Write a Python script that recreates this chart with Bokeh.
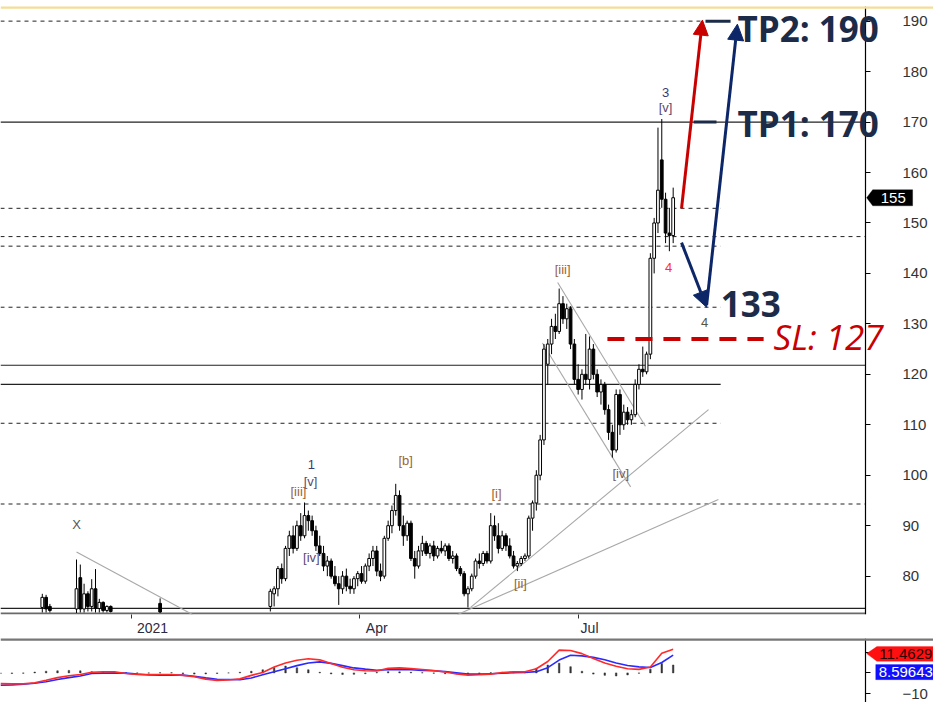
from bokeh.plotting import figure
from bokeh.models import (ColumnDataSource, Span, Label, Arrow, NormalHead, LinearAxis,
                          PolyAnnotation, FixedTicker, Range1d)
from bokeh.layouts import column
from bokeh.embed import file_html
from bokeh.resources import INLINE
from bokeh.core.properties import value

# ---------------- data ----------------
bar_idx = [11, 12, 13, 20, 21, 22, 23, 24, 25, 26, 27, 28, 29, 42] + list(range(71, 178))

opens = [73.8, 75.8, 74.0, 73.5, 79.7, 73.5, 76.5, 74.0, 77.5, 73.6, 74.8, 73.2, 74.0, 74.6,
         74, 76.5, 77.5, 81.5, 79.5, 85.5, 88, 85.5, 90, 88,
         92, 91, 89, 86, 84.5, 82, 83, 80, 78.5, 77.5,
         80, 78, 77.5, 79.5, 80.5, 79, 82, 83.5, 85, 81,
         80, 87.5, 90, 93, 96, 90, 88, 90.5, 83.5, 82,
         85, 86.5, 84.5, 86, 84, 85.5, 85, 86, 83.5, 84,
         81.5, 80.5, 76.5, 77.5, 80, 83, 82.5, 84.5, 83, 90,
         88, 85.5, 88, 86, 84, 82, 82.5, 83.5, 84, 91.5,
         94.5, 100, 107, 122, 126, 129.5, 128.5, 134, 131, 133,
         126, 119, 117, 120, 119, 125, 120, 116.5, 118, 113,
         108.5, 105, 116, 110, 112.5, 111, 112, 118, 121, 120.5,
         124, 143, 150, 162.5, 154.7, 148, 147.5]
highs = [76.5, 76.3, 74.5, 83.3, 82.3, 78.5, 77.0, 79.4, 81.4, 75.5, 75.0, 74.2, 74.2, 75.6,
         77.5, 78, 82, 82.5, 86, 89, 90, 91, 92.5, 94.6,
         93, 92, 90, 88, 86, 84, 83.5, 82, 80, 81,
         81.5, 79.5, 80, 81, 82, 82.5, 84.5, 86, 86, 82.5,
         88, 91, 94, 98.3, 97, 92, 91, 91, 85, 86,
         88, 87, 86.5, 87, 86, 87, 86.5, 86.5, 85, 84.5,
         82, 81, 78, 80.5, 83.5, 84.5, 85, 85, 92.5, 92,
         90.5, 89, 88.5, 87.5, 85, 83, 84, 84.5, 92, 95,
         101, 108, 126, 127, 131, 132, 137, 135.5, 134, 133.5,
         127, 122, 121, 128, 127.5, 126, 121, 119, 118.5, 114,
         110, 117, 117, 114, 113.5, 113, 119, 122, 125.5, 124.5,
         144, 151, 168.9, 170.6, 156, 153, 157]
lows = [72.8, 72.8, 72.8, 72.7, 72.8, 72.8, 73.0, 73.0, 72.8, 72.8, 72.8, 72.8, 72.8, 72.7,
        73, 74, 76, 78.5, 79, 84, 84.5, 85, 87, 87.5,
        89, 88, 85, 84, 81, 80, 79.5, 78, 74.3, 76.5,
        77, 76.5, 76.5, 78, 78.5, 78.5, 81, 82, 80, 79,
        79.5, 87, 88.5, 92, 89, 86, 87, 83, 79.5, 81.5,
        84, 84, 83.5, 83, 83.5, 84.5, 84, 83, 82.5, 81,
        80, 76, 73.8, 77, 79.5, 81.5, 82, 82.5, 82.5, 87,
        84.5, 85, 85, 83.5, 81.5, 81, 82, 83, 83.5, 89,
        93, 99, 106, 118, 124, 127, 128, 130, 129, 125,
        118, 116, 115, 118, 117, 119, 115.5, 114, 112, 107,
        103.5, 104.5, 108, 109, 110, 110, 111.5, 117, 119.5, 120,
        123, 140, 148, 153, 146, 144.4, 146]
closes = [75.8, 73.5, 73.2, 77.5, 73.5, 76.5, 74.0, 77.5, 73.6, 74.8, 73.2, 74.0, 73.0, 72.9,
          77, 77.5, 81.5, 79.5, 85.5, 88, 85.5, 90, 88, 92,
          91, 89, 86, 84.5, 82, 83, 80, 78.5, 77.5, 80,
          78, 77.5, 79.5, 80.5, 79, 82, 83.5, 85, 81, 80,
          87.5, 90, 93, 96, 90, 88, 90.5, 83.5, 82, 85,
          86.5, 84.5, 86, 84, 85.5, 85, 86, 83.5, 84, 81.5,
          80.5, 76.5, 77.5, 80, 83, 82.5, 84.5, 83, 90, 88,
          85.5, 88, 86, 84, 82, 82.5, 83.5, 84, 91.5, 94.5,
          100, 107, 125, 126, 129.5, 128.5, 134, 131, 133, 126,
          119, 117, 120, 119, 125, 120, 116.5, 118, 113, 108.5,
          105, 116, 110, 112.5, 111, 112, 118, 121, 120.5, 124,
          143, 150, 156.5, 154.7, 148, 147.5, 155]

# indicator (sampled every 3 bars)
ind_idx = list(range(0, 178, 3))
ind_red = [-5.2, -5.3, -5.3, -4.8, -3.6, -2.3, -1.4, -0.8, 0.3, 0.5, 0.5, -0.3, -0.8, -0.8, -0.8,
           -0.8, -1.2, -1.9, -3.0, -3.6, -3.4, -2.9, -1.2, 0.2, 2.8, 4.8, 6.1, 6.8, 6.3, 4.5,
           2.7, 1.5, 1.0, 0.9, 2.2, 2.4, 2.1, 1.6, 1.1, 0.4, -0.5, -1.1, -0.9, -0.6, 0.2,
           0.5, 0.5, 2.0, 5.5, 11.0, 10.8, 9.3, 6.9, 4.8, 3.2, 2.0, 1.7, 2.8, 9.5, 11.46]
ind_blue = [-6.0, -5.8, -5.5, -5.0, -4.3, -3.2, -2.3, -1.5, -0.3, -0.1, 0.0, -0.1, -0.6, -1.0, -1.1,
            -1.1, -1.1, -1.6, -2.4, -3.1, -3.2, -3.3, -2.5, -0.9, 0.5, 2.0, 3.5, 4.8, 5.3, 4.6,
            3.5, 2.4, 1.8, 1.3, 1.5, 1.6, 1.5, 1.2, 1.0, 0.6, 0.0, -0.6, -0.6, -0.4, -0.2,
            0.1, 0.2, 0.6, 2.5, 6.2, 8.5, 8.2, 7.5, 6.3, 4.8, 3.6, 2.9, 2.6, 5.0, 8.6]
ind_hist = [-0.3, -0.3, -0.2, 0.4, 0.8, 1.0, 1.2, 1.0, 0.6, 0.4, 0.2, 0.1, -0.1, -0.1, 0.1,
            0.1, -0.4, -0.6, -0.5, -0.3, 0.0, 0.3, 0.8, 1.5, 2.6, 3.3, 2.5, 1.5, 0.3, -0.5,
            -0.8, -0.7, -0.4, 0.2, 0.6, 0.5, 0.3, 0.1, -0.2, -0.4, -0.5, -0.6, -0.3, 0.1, 0.3,
            0.2, 0.5, 2.2, 3.8, 4.7, 3.0, 0.8, -0.6, -1.2, -1.5, -1.0, -0.2, 1.8, 4.5, 3.8]
macd_last = "11.4629"
signal_last = "8.59643"

# price levels / ticks
y_ticks = [80, 90, 100, 110, 120, 130, 140, 150, 160, 170, 180, 190]
x_tick_marks = [34.5, 94.5, 152.1]
x_label_pos = [40, 99, 155]
x_labels = ["2021", "Apr", "Jul"]

TP1, TP2, SL, TARGET = 170, 190, 127, 133.3
dashed_levels = [190, 152.9, 147.3, 145.4, 133.3, 110.3, 94.3]
dashed_ends = [184.2, 189.5, 227.6, 189.5, 189.5, 189.5, 227.6]
solid_levels = [170, 121.8, 118.0, 73.6]
solid_ends = [227.6, 227.6, 189.5, 227.6]

trend_x0 = [20, 146.6, 142.6, 123.7, 120.3]
trend_y0 = [84.8, 138.2, 126.2, 73.8, 72.4]
trend_x1 = [50.5, 169.7, 165.8, 186.3, 188.9]
trend_y1 = [72.4, 109.7, 97.7, 113.0, 95.2]

wave_text = ["X", "1", "[v]", "[iii]", "[iv]", "[b]", "[i]", "[ii]", "[iii]", "[iv]", "3", "[v]", "4", "4"]
wave_x = [20, 81.8, 81.6, 78.4, 81.8, 106.6, 130.5, 136.8, 147.9, 163.2, 175, 175, 175.8, 185.3]
wave_y = [90.2, 102.2, 98.8, 96.8, 83.6, 103.0, 96.4, 78.6, 140.7, 100.4, 175.9, 172.8, 141.1, 130.2]
wave_col = ["#555555", "#3a3a6e", "#5a4a70", "#9a6436", "#5a4a70", "#9a6436", "#9a6436", "#9a6436",
            "#9a6436", "#7a5a56", "#3a3a6e", "#5a4a70", "#ff3030", "#555544"]

X_AXIS = 227.6     # where the price axis sits
X_MAX = 245.5      # right edge of the frame (page edge)
NAVY = "#0c2668"
TXT = "#1b2b48"
RED = "#c80000"


def style_right_axis(ax):
    ax.axis_line_color = "black"
    ax.axis_line_width = 1.2
    ax.major_tick_out = 5
    ax.major_tick_in = 0
    ax.minor_tick_line_color = None
    ax.major_label_standoff = 32
    ax.major_label_text_font = "Liberation Sans"
    ax.major_label_text_font_size = "15px"
    ax.major_label_text_color = "#333333"


# ---------------- main price panel ----------------
p = figure(width=933, height=638, x_range=Range1d(0, X_MAX), y_range=Range1d(72.4, 192.9),
           toolbar_location=None, output_backend="svg", y_axis_location=None,
           min_border_left=0, min_border_right=0, min_border_top=6, min_border_bottom=21)
p.xgrid.visible = False
p.ygrid.visible = False
p.outline_line_color = None

p.add_layout(Span(location=192.75, dimension="width", line_color="#f3de94", line_width=3))

# horizontal levels
p.segment(x0=[0] * len(dashed_levels), x1=dashed_ends, y0=dashed_levels, y1=dashed_levels,
          line_color="#222222", line_width=1, line_dash="4 4")
p.segment(x0=[0] * len(solid_levels), x1=solid_ends, y0=solid_levels, y1=solid_levels,
          line_color="#222222", line_width=1.2)
# bottom baseline of the price panel
p.segment(x0=[0], x1=[X_AXIS], y0=[72.6], y1=[72.6], line_color="#6a6a6a", line_width=2)

# trend lines
p.segment(x0=trend_x0, y0=trend_y0, x1=trend_x1, y1=trend_y1, line_color="#a8a8a8", line_width=1.1)

# candles
fills = ["white" if c >= o else "black" for o, c in zip(opens, closes)]
src = ColumnDataSource(dict(x=bar_idx, o=opens, h=highs, l=lows, c=closes,
                            top=[max(o, c) for o, c in zip(opens, closes)],
                            bot=[min(o, c) for o, c in zip(opens, closes)],
                            fill=fills))
p.segment(x0="x", x1="x", y0="h", y1="l", source=src, line_color="black", line_width=1)
p.vbar(x="x", width=0.72, top="top", bottom="bot", source=src, fill_color="fill",
       line_color="black", line_width=1)

# SL dashed level
p.segment(x0=[159.7], x1=[200.8], y0=[SL], y1=[SL], line_color=RED, line_width=4, line_dash="17 11")

# TP marker segments
p.segment(x0=[182.4, 185.5], x1=[188.4, 192.1], y0=[TP1, TP2], y1=[TP1, TP2],
          line_color=TXT, line_width=3)

# wave labels
wsrc = ColumnDataSource(dict(x=wave_x, y=wave_y, t=wave_text, c=wave_col))
p.text(x="x", y="y", text="t", text_color="c", source=wsrc, text_align="center",
       text_baseline="middle", text_font=value("Liberation Sans"), text_font_size="13px")

# arrows
p.add_layout(Arrow(end=NormalHead(size=15, fill_color=RED, line_color=RED),
                   x_start=179.2, y_start=152.9, x_end=184.7, y_end=TP2 + 0.2,
                   line_color=RED, line_width=3))
p.add_layout(Arrow(end=NormalHead(size=16, fill_color=NAVY, line_color=NAVY),
                   x_start=179.2, y_start=146.1, x_end=185.8, y_end=TARGET,
                   line_color=NAVY, line_width=3))
p.add_layout(Arrow(end=NormalHead(size=16, fill_color=NAVY, line_color=NAVY),
                   x_start=185.8, y_start=TARGET + 0.4, x_end=193.9, y_end=TP2 - 0.6,
                   line_color=NAVY, line_width=3))

# big texts
for txt, xx, yy, col, style in [("TP2: 190", 193.9, TP2 - 1.4, TXT, "bold"),
                                ("TP1: 170", 193.9, TP1 - 0.3, TXT, "bold"),
                                ("133", 189.5, TARGET + 0.6, TXT, "bold"),
                                ("SL: 127", 203.4, SL + 0.4, RED, "italic")]:
    p.add_layout(Label(x=xx, y=yy, text=txt, text_color=col, text_font="Open Sans",
                       text_font_style=style, text_font_size="35px",
                       text_align="left", text_baseline="middle"))

# price axis inside the wide frame
yax = LinearAxis(fixed_location=X_AXIS, ticker=FixedTicker(ticks=y_ticks))
style_right_axis(yax)
p.add_layout(yax, "right")

# last price box
last = closes[-1]
p.add_layout(PolyAnnotation(xs=[X_AXIS + 0.3, X_AXIS + 1.9, X_AXIS + 12.4, X_AXIS + 12.4, X_AXIS + 1.9],
                            ys=[last, last + 1.6, last + 1.6, last - 1.6, last - 1.6],
                            fill_color="black", fill_alpha=1, line_color="black"))
p.add_layout(Label(x=X_AXIS + 7.3, y=last, text="155", text_color="white", text_font="Liberation Sans",
                   text_font_size="15px", text_align="center", text_baseline="middle"))

# time axis
p.xaxis.ticker = FixedTicker(ticks=x_label_pos, minor_ticks=x_tick_marks)
p.xaxis.major_label_overrides = {k: v for k, v in zip(x_label_pos, x_labels)}
p.xaxis.major_tick_line_color = None
p.xaxis.major_tick_out = 0
p.xaxis.major_tick_in = 0
p.xaxis.minor_tick_out = 4
p.xaxis.minor_tick_in = 0
p.xaxis.minor_tick_line_color = "#333333"
p.xaxis.axis_line_color = None
p.xaxis.major_label_standoff = 1
p.xaxis.major_label_text_font = "Liberation Sans"
p.xaxis.major_label_text_font_size = "14px"
p.xaxis.major_label_text_color = "#2a2a44"

# ---------------- indicator panel ----------------
q = figure(width=933, height=64, x_range=p.x_range, y_range=Range1d(-14.3, 16.6),
           toolbar_location=None, output_backend="svg", y_axis_location=None,
           x_axis_location=None, min_border_left=0, min_border_right=0,
           min_border_top=0, min_border_bottom=0)
q.xgrid.visible = False
q.ygrid.visible = False
q.outline_line_color = None
q.add_layout(Span(location=16.2, dimension="width", line_color="#777777", line_width=3))

q.vbar(x=ind_idx, width=0.4, top=ind_hist, bottom=0, fill_color="#333333", line_color="#333333",
       line_width=0.5)
q.line(ind_idx, ind_blue, line_color="#2a2aff", line_width=1.6)
q.line(ind_idx, ind_red, line_color="#ff2a2a", line_width=1.6)

qax = LinearAxis(fixed_location=X_AXIS, ticker=FixedTicker(ticks=[-10, 0, 10]))
qax.major_label_overrides = {0: "", 10: ""}
style_right_axis(qax)
q.add_layout(qax, "right")

# value boxes
q.add_layout(PolyAnnotation(xs=[X_AXIS + 0.3, X_AXIS + 3.0, X_MAX, X_MAX, X_AXIS + 3.0],
                            ys=[9.3, 12.7, 12.7, 5.6, 5.6],
                            fill_color="#ff1010", fill_alpha=1, line_color="#ff1010"))
q.add_layout(Label(x=X_AXIS + 10.6, y=9.1, text=macd_last, text_color="#2a0000",
                   text_font="Liberation Sans", text_font_size="15px",
                   text_align="center", text_baseline="middle"))
q.add_layout(PolyAnnotation(xs=[X_AXIS + 2.7, X_MAX, X_MAX, X_AXIS + 2.7],
                            ys=[4.0, 4.0, -3.3, -3.3],
                            fill_color="#1010ff", fill_alpha=1, line_color="#1010ff"))
q.add_layout(Label(x=X_AXIS + 10.6, y=0.3, text=signal_last, text_color="white",
                   text_font="Liberation Sans", text_font_size="15px",
                   text_align="center", text_baseline="middle"))

layout = column(p, q, spacing=0)
open("out.html", "w").write(file_html(layout, INLINE))
